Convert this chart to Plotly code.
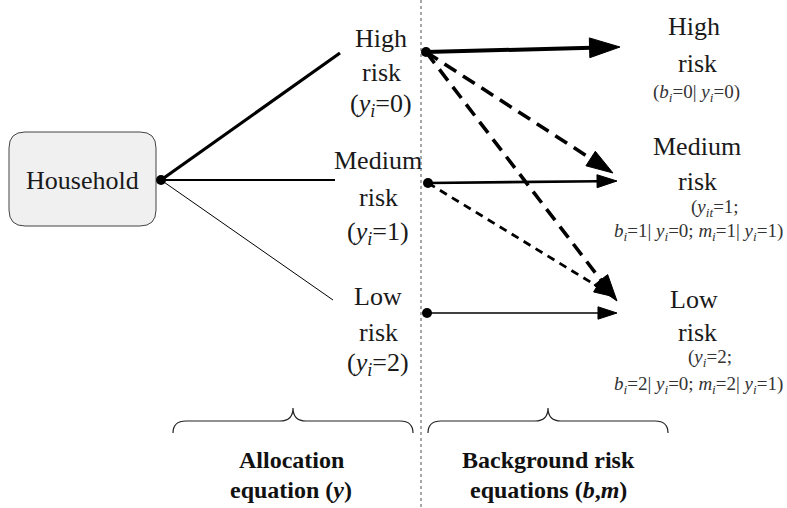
import plotly.graph_objects as go

# ---- diagram content ----
left_labels = [["High", "risk", "(<i>y<sub>i</sub></i>=0)"],
               ["Medium", "risk", "(<i>y<sub>i</sub></i>=1)"],
               ["Low", "risk", "(<i>y<sub>i</sub></i>=2)"]]
right_title = ["High", "Medium", "Low"]
right_sub1 = ["(<i>b<sub>i</sub></i>=0| <i>y<sub>i</sub></i>=0)",
              "(<i>y<sub>it</sub></i>=1;",
              "(<i>y<sub>i</sub></i>=2;"]
right_sub2 = ["",
              "<i>b<sub>i</sub></i>=1| <i>y<sub>i</sub></i>=0; <i>m<sub>i</sub></i>=1| <i>y<sub>i</sub></i>=1)",
              "<i>b<sub>i</sub></i>=2| <i>y<sub>i</sub></i>=0; <i>m<sub>i</sub></i>=2| <i>y<sub>i</sub></i>=1)"]
bottom_labels = [["<b>Allocation</b>", "<b>equation (<i>y</i>)</b>"],
                 ["<b>Background risk</b>", "<b>equations (<i>b</i>,<i>m</i>)</b>"]]

# edges: (from left node, to right node, style)
edges_from = [0, 1, 2, 0, 0, 1]
edges_to = [0, 1, 2, 1, 2, 2]
edges_dash = ["solid", "solid", "solid", "dash", "dash", "dash"]

# ---- layout geometry (pixel space) ----
W, H = 787, 508
hub = (161, 180)
branch_end = [(340, 53), (335, 180), (333, 300)]
branch_w = [3.2, 2.2, 1.0]
src = [(426, 52), (428, 183), (427, 313)]
dst_solid = [(620, 47), (617, 181), (617, 313)]
dst_dash = {(0, 1): (613, 173), (0, 2): (617, 301), (1, 2): (615, 297)}
edge_w = [4.0, 2.6, 1.6, 3.6, 3.6, 2.8]
head_size = [32, 21, 20, 28, 28, 22]
dash_pat = {0: "14px,8px", 1: "8px,6px"}

FONT = "Liberation Serif"
INK = "#1a1a1a"
BIG, SMALL, BOLD = 26, 19, 24

fig = go.Figure()

for (ex, ey), w in zip(branch_end, branch_w):
    fig.add_trace(go.Scatter(x=[hub[0], ex], y=[hub[1], ey], mode="lines",
                             line=dict(color="black", width=w),
                             hoverinfo="skip", showlegend=False))

for k, (a, b, d) in enumerate(zip(edges_from, edges_to, edges_dash)):
    x0, y0 = src[a]
    if d == "solid":
        x1, y1 = dst_solid[b]
        dash = "solid"
    else:
        x1, y1 = dst_dash[(a, b)]
        dash = dash_pat[a]
    fig.add_trace(go.Scatter(
        x=[x0, x1], y=[y0, y1], mode="lines+markers",
        line=dict(color="black", width=edge_w[k], dash=dash),
        marker=dict(symbol=["circle", "arrow"], size=[0, head_size[k]],
                    color="black", opacity=1, angleref="previous",
                    line=dict(width=1, color="black")),
        hoverinfo="skip", showlegend=False))

dots_x = [hub[0]] + [s[0] for s in src]
dots_y = [hub[1]] + [s[1] for s in src]
fig.add_trace(go.Scatter(x=dots_x, y=dots_y, mode="markers",
                         marker=dict(color="black", size=10, opacity=1),
                         hoverinfo="skip", showlegend=False))

shapes = []
x0, y0, x1, y1, r = 9, 132, 156, 226, 16
shapes.append(dict(
    type="path",
    path=(f"M{x0+r},{y0} L{x1-r},{y0} Q{x1},{y0} {x1},{y0+r} L{x1},{y1-r} "
          f"Q{x1},{y1} {x1-r},{y1} L{x0+r},{y1} Q{x0},{y1} {x0},{y1-r} "
          f"L{x0},{y0+r} Q{x0},{y0} {x0+r},{y0} Z"),
    fillcolor="#f0f0f0", line=dict(color="#444", width=1), layer="below"))
shapes.append(dict(type="line", x0=421, x1=421, y0=0, y1=H,
                   line=dict(color="#8a8a8a", width=1.5, dash="dot"), layer="below"))


def brace(xa, xb, ytip, yflat, yend):
    xm = (xa + xb) / 2
    c = 13
    return (f"M{xa},{yend} Q{xa},{yflat} {xa+c},{yflat} L{xm-c},{yflat} "
            f"Q{xm},{yflat} {xm},{ytip} Q{xm},{yflat} {xm+c},{yflat} "
            f"L{xb-c},{yflat} Q{xb},{yflat} {xb},{yend}")


for xa, xb in [(173, 413), (428, 668)]:
    shapes.append(dict(type="path", path=brace(xa, xb, 408, 421, 433),
                       line=dict(color="#222", width=1.2)))

ann = []
ann.append(dict(x=82, y=180, text="Household", showarrow=False,
                font=dict(family=FONT, size=BIG, color=INK)))

left_x = [381, 378, 378]
left_ys = [(38, 72, 105), (160, 197, 233), (296, 332, 364)]
for i in range(3):
    for t, yy in zip(left_labels[i], left_ys[i]):
        ann.append(dict(x=left_x[i], y=yy, text=t, showarrow=False,
                        font=dict(family=FONT, size=BIG, color=INK)))

right_x = [694, 697, 694]
right_ys = [(26, 63, 93, None), (146, 181, 208, 232), (299, 332, 358, 385)]
sub1_x = [696, 715, 710]
for i in range(3):
    y_t, y_r, y_s1, y_s2 = right_ys[i]
    ann.append(dict(x=right_x[i], y=y_t, text=right_title[i], showarrow=False,
                    font=dict(family=FONT, size=BIG, color=INK)))
    ann.append(dict(x=697, y=y_r, text="risk", showarrow=False,
                    font=dict(family=FONT, size=BIG, color=INK)))
    ann.append(dict(x=sub1_x[i], y=y_s1, text=right_sub1[i], showarrow=False,
                    font=dict(family=FONT, size=SMALL, color="#333")))
    if right_sub2[i]:
        ann.append(dict(x=698, y=y_s2, text=right_sub2[i], showarrow=False,
                        font=dict(family=FONT, size=SMALL, color="#333")))

for xc, lines in zip([291, 548], bottom_labels):
    for t, yy in zip(lines, [460, 490]):
        ann.append(dict(x=xc, y=yy, text=t, showarrow=False,
                        font=dict(family=FONT, size=BOLD, color="#111")))

fig.update_layout(
    width=W, height=H,
    margin=dict(l=0, r=0, t=0, b=0),
    paper_bgcolor="white", plot_bgcolor="white",
    xaxis=dict(range=[0, W], visible=False, fixedrange=True),
    yaxis=dict(range=[H, 0], visible=False, fixedrange=True),
    shapes=shapes, annotations=ann,
)

fig.write_html("out.html", config={"displayModeBar": False},
               post_script="document.body.style.margin='0px';document.body.style.overflow='hidden';")
